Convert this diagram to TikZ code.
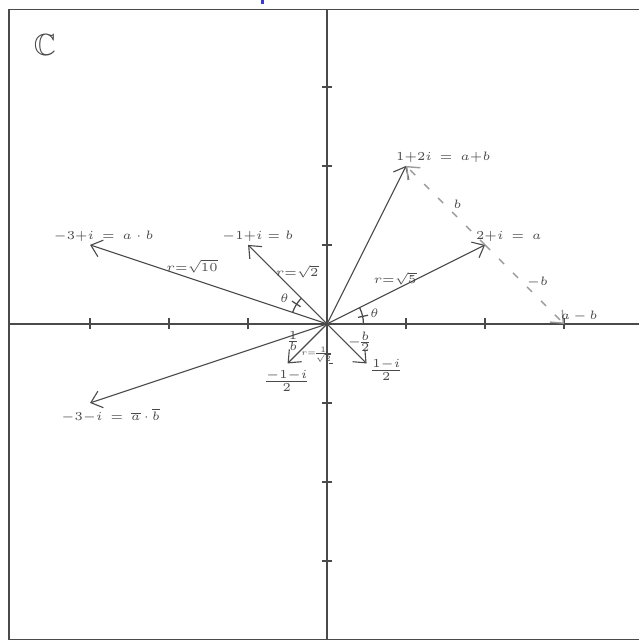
\documentclass[tikz,border=0pt]{standalone}
\usepackage{amssymb, amsmath}
\usepackage{tikz}
\usetikzlibrary{calc,arrows.meta}
\usetikzlibrary{positioning}
\definecolor{cp-pencil}{HTML}{4A4A4A}
\definecolor{cp-light}{HTML}{9A9A9A}
\definecolor{cp-blue}{HTML}{3A3AD0}
\setlength{\nulldelimiterspace}{0pt}
\newcommand{\pencil}[2][0.88]{\scalebox{#1}{#2}}

\begin{document}
\begin{tikzpicture}[
    x=1cm, y=1cm,
    font=\fontsize{5}{6}\selectfont,
    >={Straight Barb[length=1.3mm,width=2.2mm]}
  ]

  % Styles for the pencil sketch
  \tikzset{
    axis/.style={draw=cp-pencil, line width=0.45pt},
    vec/.style={->, draw=cp-pencil, line width=0.4pt},
    shiftvec/.style={->, draw=cp-light, line width=0.5pt, dash pattern=on 0.9mm off 1.6mm},
    lbl/.style={text=cp-pencil, inner sep=0.5pt},
    tickmark/.style={draw=cp-pencil, line width=0.6pt}
  }

  % Sheet with its frame
  \useasboundingbox (-4.14,-4.013) rectangle (3.95,4.10);
  \draw[axis] (3.95,3.98) -- (-4.025,3.98) -- (-4.025,-3.99) -- (3.95,-3.99);
  \fill[cp-blue] (-0.84,4.05) rectangle (-0.80,4.10);

  % Axes
  \coordinate (O) at (0,0);
  \draw[axis] (-4.025,0) -- (3.95,0);
  \draw[axis] (0,3.98) -- (0,-3.99);
  \foreach \k in {-3,-2,-1,1,2,3} {
    \draw[tickmark] (\k,-0.07) -- (\k,0.07);
    \draw[tickmark] (-0.06,\k) -- (0.06,\k);
  }
  \draw[tickmark] (0.02,-0.5) -- (0.07,-0.5);

  % Points of the plane
  \coordinate (a)   at (2,1);
  \coordinate (apb) at (1,2);
  \coordinate (b)   at (-1,1);
  \coordinate (ab)  at (-3,1);
  \coordinate (amb) at (3,0);
  \coordinate (cab) at (-3,-1);
  \coordinate (inv) at (-0.5,-0.5);
  \coordinate (hb)  at (0.5,-0.5);

  % Vectors from the origin
  \foreach \p in {a,apb,b,ab,cab,inv,hb}
    \draw[vec] (O) -- (\p);

  % Adding and subtracting b at the tip of a
  \draw[shiftvec] (a) -- (apb);
  \draw[shiftvec] (a) -- (amb);

  % Angles
  \draw[axis] (O) ++(0:0.46) arc[start angle=0, end angle=26.57, radius=0.46];
  \draw[axis] (O) ++(12:0.40) -- ++(12:0.13);
  \draw[axis] (O) ++(135:0.46) arc[start angle=135, end angle=161.57, radius=0.46];
  \draw[axis] (O) ++(147:0.40) -- ++(147:0.13);

  % Labels
  \node[lbl] (lC)   at (-3.57,3.53) {\fontsize{11}{13}\selectfont$\mathbb{C}$};
  \node[lbl] (lapb) at (1.47,2.11)  {\pencil{$1{+}2i \,=\, a{+}b$}};
  \node[lbl] (la)   at (2.30,1.11)  {\pencil{$2{+}i \,=\, a$}};
  \node[lbl] (lb)   at (-0.88,1.11) {\pencil{$-1{+}i = b$}};
  \node[lbl] (lab)  at (-2.83,1.11) {\pencil{$-3{+}i \,=\, a\cdot b$}};
  \node[lbl] (lamb) at (3.19,0.10)  {\pencil{$a\,{-}\,b$}};
  \node[lbl] (lcab) at (-2.74,-1.16) {\pencil{$-3{-}i \,=\, \overline{a}\,{\cdot}\,\overline{b}$}};
  \node[lbl] (linv) at (-0.51,-0.72) {\pencil{$\frac{-1-i}{2}$}};
  \node[lbl] (lhb)  at (0.75,-0.58)  {\pencil{$\frac{1-i}{2}$}};
  \node[lbl] (lnb)  at (0.40,-0.23)  {\pencil{$-\frac{b}{2}$}};
  \node[lbl] (lrec) at (-0.43,-0.22) {\pencil{$\frac{1}{b}$}};
  \node[lbl, inner sep=0pt] (rinv) at (-0.14,-0.39) {\pencil[0.6]{$r{=}\frac{1}{\sqrt{2}}$}};
  \node[lbl] (rab)  at (-1.71,0.73)  {\pencil{$r{=}\sqrt{10}$}};
  \node[lbl] (rb)   at (-0.38,0.66)  {\pencil{$r{=}\sqrt{2}$}};
  \node[lbl] (ra)   at (0.86,0.57)   {\pencil{$r{=}\sqrt{5}$}};
  \node[lbl] (th1)  at (0.60,0.13)   {\pencil{$\theta$}};
  \node[lbl] (th2)  at (-0.54,0.33)  {\pencil{$\theta$}};
  \node[lbl] (lsb)  at (1.65,1.52)   {\pencil{$b$}};
  \node[lbl] (lsnb) at (2.66,0.53)   {\pencil{$-b$}};

\end{tikzpicture}
\end{document}
